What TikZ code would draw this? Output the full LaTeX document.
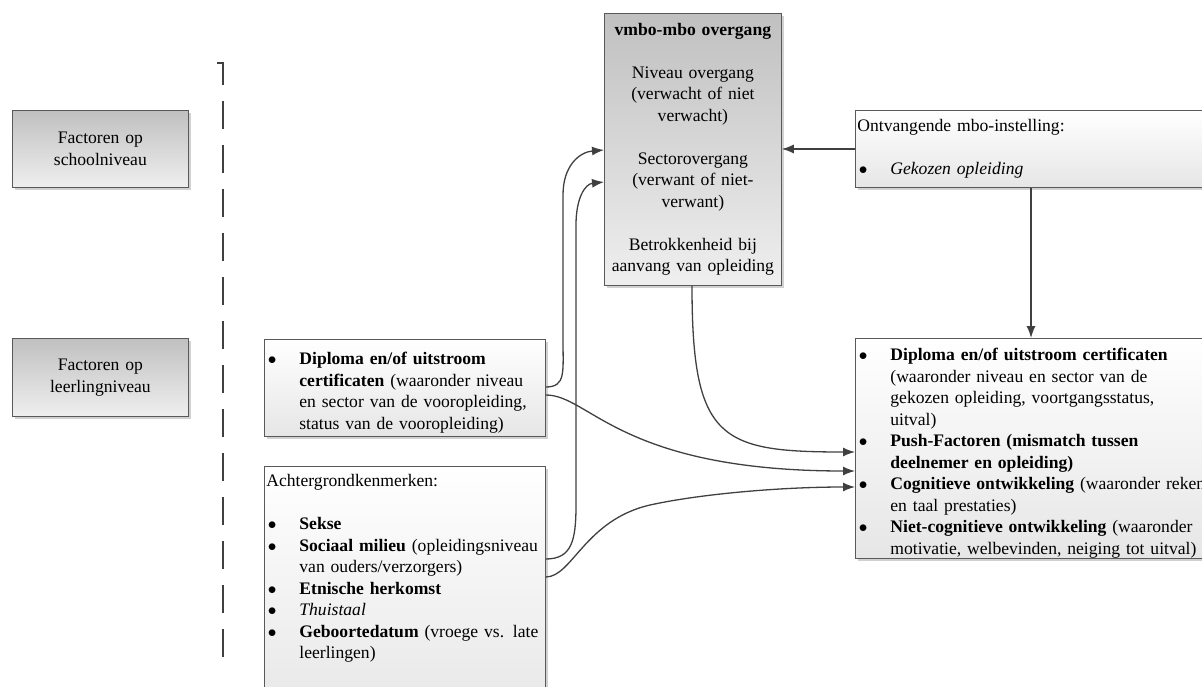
\documentclass[tikz,border=0pt]{standalone}
\usepackage{fontspec}
\setmainfont{Liberation Serif}
\usepackage{xcolor}
\usepackage{tikz}
\usetikzlibrary{arrows.meta,shadows}
\definecolor{lijn}{HTML}{404040}
\definecolor{grijsboven}{HTML}{C0C0C0}
\definecolor{grijsonder}{HTML}{EFEFEF}
\definecolor{witonder}{HTML}{E6E6E6}
\newcommand{\itm}{\par\noindent\hangindent=33pt\hangafter=1\makebox[33pt][l]{\hspace{1.5pt}$\bullet$}}

\tikzset{
	vak/.style={draw=black!65, line width=0.8pt, anchor=north west, inner xsep=2pt, inner ysep=0pt,
		font=\fontsize{17.6}{21.5}\selectfont,
		drop shadow={shadow xshift=3pt, shadow yshift=-3pt, fill=black, opacity=.18}},
	grijsvak/.style={vak, top color=grijsboven, bottom color=grijsonder, align=center},
	witvak/.style={vak, top color=white, bottom color=witonder},
	pijl/.style={draw=lijn, line width=1.3pt, -{Latex[length=12pt,width=9pt]}},
}

\begin{document}
\begin{tikzpicture}[x=1pt,y=-1pt]
		\useasboundingbox (0,0) rectangle (1202,687);
		\draw[lijn, line width=1.2pt, dash pattern=on 28pt off 16pt] (217,63) -- (223,63) -- (223,658);
		\node[grijsvak, minimum height=77pt, text width=172pt] (school) at (12,110) {Factoren op\\schoolniveau};
		\node[grijsvak, minimum height=78pt, text width=172pt] (leerling) at (12,338) {Factoren op\\leerlingniveau};
		\node[grijsvak, minimum height=272pt, text width=173pt] (overgang) at (604,13) {\textbf{vmbo-mbo overgang}\\[21.5pt]
			Niveau overgang\\(verwacht of niet\\verwacht)\\[21.5pt]
			Sectorovergang\\(verwant of niet-\\verwant)\\[21.5pt]
			Betrokkenheid bij\\aanvang van opleiding};
		\node[witvak, minimum height=77pt, text width=360pt] (mbo) at (855,110) {\noindent Ontvangende mbo-instelling:\par\vspace{21.5pt}
			\itm \textit{Gekozen opleiding}\par};
		\node[witvak, minimum height=97pt, text width=277pt] (vooropl) at (264,339) {\itm \textbf{Diploma en/of uitstroom}\newline
			\textbf{certificaten} (waaronder niveau\newline en sector van de vooropleiding,\newline status van de vooropleiding)\par};
		\node[witvak, inner ysep=8pt, text width=277pt] (achter) at (264,466) {\noindent Achtergrondkenmerken:\par\vspace{21.5pt}
			\itm \textbf{Sekse}
			\itm \textbf{Sociaal milieu} (opleidingsniveau\newline van ouders/verzorgers)
			\itm \textbf{Etnische herkomst}
			\itm \textit{Thuistaal}
			\itm \textbf{Geboortedatum} (vroege vs. late\newline leerlingen)\rule[-60pt]{0pt}{60pt}\par};
		\node[witvak, minimum height=220pt, text width=360pt] (uitkomst) at (855,338) {\itm \textbf{Diploma en/of uitstroom certificaten}\newline
			(waaronder niveau en sector van de\newline gekozen opleiding, voortgangsstatus,\newline uitval)
			\itm \textbf{Push-Factoren (mismatch tussen}\newline \textbf{deelnemer en opleiding)}
			\itm \textbf{Cognitieve ontwikkeling} (waaronder reken\newline en taal prestaties)
			\itm \textbf{Niet-cognitieve ontwikkeling} (waaronder\newline motivatie, welbevinden, neiging tot uitval)\par};
		
		\draw[pijl] (vooropl.east |- 0,387) .. controls (566,387) and (563,372) .. (563,340) -- (563,195) .. controls (563,165) and (580,152) .. (overgang.west |- 0,150);
		\draw[pijl] (achter.east |- 0,559) .. controls (572,559) and (576,540) .. (576,505) -- (576,225) .. controls (576,198) and (585,184) .. (overgang.west |- 0,182);
		\draw[pijl] (vooropl.east |- 0,395) .. controls (590,395) and (620,471) .. (uitkomst.west |- 0,471);
		\draw[pijl] (achter.east |- 0,577) .. controls (572,577) and (585,520) .. (650,505) .. controls (700,494) and (780,487) .. (uitkomst.west |- 0,487);
		\draw[pijl] (overgang.south -| 692,0) .. controls (692,440) and (720,452) .. (uitkomst.west |- 0,452);
		\draw[pijl] (mbo.west |- 0,149) -- (overgang.east |- 0,149);
		\draw[pijl] (mbo.south -| 1031,0) -- (uitkomst.north -| 1031,0);
		
\end{tikzpicture}
\end{document}
